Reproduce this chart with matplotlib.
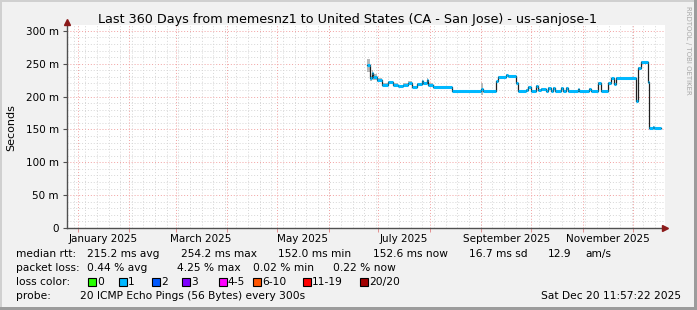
import pandas as pd
import matplotlib
matplotlib.use('Agg')
from matplotlib import pyplot as plt, dates as mdates
from matplotlib.patches import Rectangle

# median rtt (ms) per step, value holds until next date
dates = ['2025-06-24', '2025-06-26', '2025-06-27', '2025-06-28', '2025-06-30',
         '2025-07-03', '2025-07-07', '2025-07-10', '2025-07-13', '2025-07-16',
         '2025-07-19', '2025-07-21', '2025-07-24', '2025-07-27', '2025-07-28',
         '2025-07-30', '2025-07-31', '2025-08-03', '2025-08-14', '2025-09-01',
         '2025-09-02', '2025-09-10', '2025-09-11', '2025-09-16', '2025-09-17',
         '2025-09-22', '2025-09-23', '2025-09-28', '2025-09-29', '2025-10-01',
         '2025-10-04', '2025-10-05', '2025-10-07', '2025-10-10', '2025-10-11',
         '2025-10-13', '2025-10-14', '2025-10-15', '2025-10-19', '2025-10-20',
         '2025-10-22', '2025-10-23', '2025-10-29', '2025-10-30', '2025-11-05',
         '2025-11-06', '2025-11-10', '2025-11-12', '2025-11-16', '2025-11-18',
         '2025-11-20', '2025-11-21', '2025-12-03', '2025-12-04', '2025-12-06',
         '2025-12-10', '2025-12-11', '2025-12-13', '2025-12-14']
median_ms = [248, 228, 236, 230, 225,
             218, 222, 218, 216, 218,
             221, 215, 219, 223, 220,
             225, 218, 215, 209, 211,
             209, 223, 230, 233, 231,
             221, 209, 210, 215, 209,
             216, 210, 212, 209, 213,
             208, 213, 208, 213, 208,
             213, 208, 211, 208, 212,
             208, 221, 208, 221, 228,
             219, 229, 194, 244, 253,
             222, 152, 154, 152]
smoke_ms = [10, 4, 5, 4, 3,
            2, 2, 2, 1, 2,
            2, 1, 2, 2, 2,
            3, 2, 1, 1, 9,
            1, 1, 1, 1, 1,
            1, 1, 1, 1, 1,
            1, 1, 1, 1, 1,
            1, 1, 1, 1, 1,
            1, 1, 1, 1, 1,
            1, 1, 1, 1, 1,
            1, 1, 1, 1, 1,
            1, 1, 1, 1]
last_sample = '2025-12-18'
end_time = '2025-12-20 11:57:22'

y_ticks = [0, 50, 100, 150, 200, 250, 300]
y_labels = ['0', '50 m', '100 m', '150 m', '200 m', '250 m', '300 m']
month_labels = ['January 2025', 'March 2025', 'May 2025', 'July 2025',
                'September 2025', 'November 2025']

loss_names = ['0', '1', '2', '3', '4-5', '6-10', '11-19', '20/20']
loss_colors = ['#26ff00', '#00b8ff', '#0059ff', '#7e00ff', '#ff00ff',
               '#ff5500', '#ff0000', '#a10000']

W, H = 697, 310
BG = '#f1f1f1'
RED_GRID = '#f2a0a0'
GRAY_GRID = '#d6d6d6'

fig = plt.figure(figsize=(W / 100, H / 100), dpi=100, facecolor=BG)
ax = fig.add_axes([67 / W, (H - 228) / H, 598 / W, 203 / H])
ax.set_facecolor('white')

t = pd.to_datetime(dates)
t_end = pd.Timestamp(end_time)
t_start = t_end - pd.Timedelta(days=360)
x = mdates.date2num(t)
x_next = mdates.date2num(list(t[1:]) + [pd.Timestamp(last_sample)])

ax.set_xlim(mdates.date2num(t_start), mdates.date2num(t_end))
ax.set_ylim(0, 309)

# grid
weeks = pd.date_range(t_start, t_end, freq='W-SUN')
months = pd.date_range('2025-01-01', t_end, freq='MS')
for v in range(10, 310, 10):
    ax.axhline(v, color=RED_GRID if v % 50 == 0 else GRAY_GRID,
               lw=0.7, ls=(0, (1, 2)), zorder=1)
for w in weeks:
    ax.axvline(mdates.date2num(w), color=GRAY_GRID, lw=0.7,
               ls=(0, (1, 2)), zorder=1)
for m in months:
    ax.axvline(mdates.date2num(m), color=RED_GRID, lw=0.7,
               ls=(0, (1, 2)), zorder=1)

# smoke, median steps
lo = [m - s for m, s in zip(median_ms, smoke_ms)]
hi = [m + s for m, s in zip(median_ms, smoke_ms)]
ax.fill_between(list(x) + [x_next[-1]], lo + [lo[-1]], hi + [hi[-1]],
                step='post', color='#b8b8b8', lw=0, zorder=2)
ax.step(list(x) + [x_next[-1]], median_ms + [median_ms[-1]], where='post',
        color='#202020', lw=0.9, zorder=3)
ax.hlines(median_ms, x, x_next, color=loss_colors[1], lw=2.2, zorder=4)

# axes styling
for s in ['top', 'right']:
    ax.spines[s].set_visible(False)
for s in ['left', 'bottom']:
    ax.spines[s].set_color('#505050')
    ax.spines[s].set_linewidth(1)
ax.set_yticks(y_ticks)
ax.set_yticklabels(y_labels, fontsize=7.5)
ax.tick_params(axis='y', length=3, width=0.8, color='#505050', pad=3)
mid = [mdates.date2num(m + pd.Timedelta(days=15))
       for m in pd.date_range('2025-01-01', periods=6, freq='2MS')]
ax.set_xticks(mid)
ax.set_xticklabels(month_labels, fontsize=7.5)
ax.set_xticks(mdates.date2num(months), minor=True)
ax.tick_params(axis='x', which='major', length=0, pad=4)
ax.tick_params(axis='x', which='minor', length=3, color='#e08080')
ax.plot([0], [1.015], '^', transform=ax.transAxes, color='#8b1a1a',
        ms=5, clip_on=False, zorder=6)
ax.plot([1], [0], '>', transform=ax.transAxes, color='#8b1a1a',
        ms=5, clip_on=False, zorder=6)

fig.text(11 / W, 1 - 128 / H, 'Seconds', rotation=90, fontsize=8,
         ha='center', va='center')
fig.text(348 / W, 1 - 19 / H,
         'Last 360 Days from memesnz1 to United States (CA - San Jose) - us-sanjose-1',
         fontsize=9.15, ha='center', va='center')
fig.text(688 / W, 1 - 6 / H, 'RRDTOOL / TOBI OETIKER', rotation=270,
         fontsize=5, color='#a8a8a8', ha='center', va='top')

# legend block
fs = 7.7
rows = [
    (254, [(16, 'median rtt:'), (87, '215.2 ms avg'), (181, '254.2 ms max'),
           (278, '152.0 ms min'), (373, '152.6 ms now'), (469, '16.7 ms sd'),
           (548, '12.9'), (585, 'am/s')]),
    (268, [(16, 'packet loss:'), (87, '0.44 % avg'), (177, '4.25 % max'),
           (253, '0.02 % min'), (333, '0.22 % now')]),
    (282, [(16, 'loss color:')]),
    (296, [(16, 'probe:'), (80, '20 ICMP Echo Pings (56 Bytes) every 300s')]),
]
for y, items in rows:
    for xx, s in items:
        fig.text(xx / W, 1 - y / H, s, fontsize=fs, va='center', ha='left')
box_x = [88, 119, 152, 182, 219, 253, 303, 360]
for bx, name, c in zip(box_x, loss_names, loss_colors):
    fig.add_artist(Rectangle((bx / W, 1 - 286 / H), 8 / W, 8 / H,
                             transform=fig.transFigure, facecolor=c,
                             edgecolor='black', lw=0.8))
    fig.text((bx + 9) / W, 1 - 282 / H, name, fontsize=fs, va='center')
fig.text(681 / W, 1 - 296 / H, 'Sat Dec 20 11:57:22 2025', fontsize=fs,
         va='center', ha='right')

# frame
fig.add_artist(Rectangle((0, 0), 2 / W, 1, transform=fig.transFigure,
                         color='#d0d0d0', lw=0))
fig.add_artist(Rectangle((0, 1 - 2 / H), 1, 2 / H, transform=fig.transFigure,
                         color='#d0d0d0', lw=0))
fig.add_artist(Rectangle((1 - 3 / W, 0), 3 / W, 1, transform=fig.transFigure,
                         color='#9c9c9c', lw=0))
fig.add_artist(Rectangle((0, 0), 1, 3 / H, transform=fig.transFigure,
                         color='#9c9c9c', lw=0))

fig.savefig('out.png', dpi=100, facecolor=BG)
